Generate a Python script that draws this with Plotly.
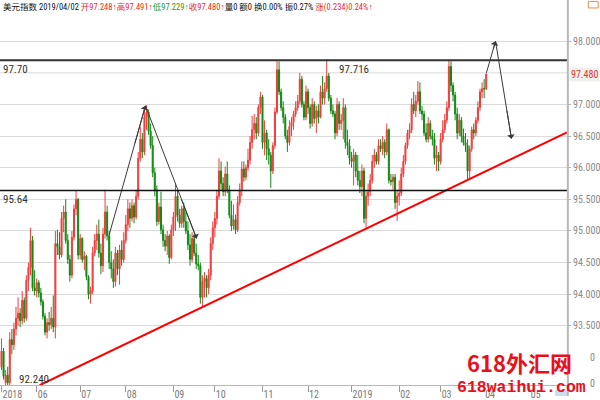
import pandas as pd
import plotly.graph_objects as go

# Daily US Dollar Index bars, 2018-05-09 .. 2019-04-02
opens = [
    92.85, 93.10, 92.60, 92.72, 92.60, 93.28, 93.20, 93.45, 93.62, 93.70,
    93.58, 93.90, 93.62, 94.22, 94.42, 94.85, 94.10, 94.05, 94.18, 94.02,
    93.88, 93.65, 93.40, 93.55, 93.52, 93.62, 93.48, 94.80, 94.75, 94.62,
    95.20, 95.30, 94.85, 94.55, 94.30, 94.90, 95.35, 95.50, 94.62, 94.88,
    94.55, 94.60, 94.28, 94.00, 94.05, 94.65, 94.85, 94.95, 94.65, 94.45,
    94.95, 95.30, 94.92, 94.50, 94.40, 94.20, 94.65, 94.40, 94.70, 94.55,
    94.85, 95.10, 95.35, 95.20, 95.40, 95.22, 95.55, 96.15, 96.45, 96.25,
    96.80, 96.88, 96.58, 96.35, 95.92, 95.65, 95.15, 95.38, 95.02, 94.85,
    94.76, 94.92, 94.58, 95.02, 95.22, 95.55, 95.25, 95.12, 95.35, 95.15,
    95.00, 94.78, 94.55, 94.88, 94.65, 94.48, 94.45, 93.95, 94.20, 94.25,
    94.10, 94.30, 94.80, 95.05, 95.20, 95.55, 95.95, 95.75, 95.62, 95.90,
    95.65, 95.25, 95.08, 95.18, 95.02, 95.45, 95.65, 95.98, 95.85, 96.00,
    96.12, 96.40, 96.60, 96.70, 96.55, 96.95, 97.12, 96.40, 96.55, 96.30,
    96.20, 95.95, 96.35, 96.88, 97.55, 97.20, 96.95, 96.80, 96.50, 96.40,
    96.65, 96.72, 96.85, 96.95, 97.05, 97.40, 97.00, 96.80, 97.20, 96.95,
    96.70, 97.00, 96.78, 96.90, 96.80, 97.20, 97.10, 97.25, 97.45, 97.10,
    96.90, 96.85, 96.55, 97.00, 96.70, 96.75, 96.95, 96.40, 96.35, 96.15,
    96.10, 96.20, 95.95, 95.80, 95.70, 95.95, 95.20, 95.55, 95.62, 95.80,
    96.10, 96.20, 96.10, 96.35, 96.30, 96.40, 96.25, 96.60, 95.80, 95.78,
    95.85, 95.45, 95.55, 95.60, 95.90, 96.10, 96.35, 96.55, 96.60, 97.00,
    96.90, 97.05, 97.20, 96.90, 96.85, 96.55, 96.45, 96.70, 96.50, 96.45,
    96.15, 96.20, 96.10, 96.45, 96.60, 96.75, 96.95, 97.60, 97.30, 97.15,
    96.85, 96.55, 96.75, 96.50, 96.40, 96.35, 95.95, 96.30, 96.60, 96.55,
    96.75, 96.95, 97.20, 97.25, 97.248,
]
highs = [
    93.30, 93.15, 92.80, 92.85, 93.40, 93.45, 93.55, 93.80, 93.95, 93.78,
    94.05, 93.95, 94.30, 94.50, 95.05, 94.92, 94.38, 94.25, 94.22, 94.10,
    93.92, 93.70, 93.62, 93.72, 93.80, 93.98, 95.00, 95.02, 94.98, 95.30,
    95.40, 95.50, 94.95, 94.62, 95.00, 95.42, 95.64, 95.52, 94.95, 94.90,
    94.68, 94.62, 94.30, 94.12, 94.75, 94.95, 95.10, 95.18, 94.80, 95.05,
    95.65, 95.40, 95.00, 94.68, 94.55, 94.75, 94.70, 94.78, 94.85, 94.98,
    95.25, 95.50, 95.45, 95.50, 95.45, 95.65, 96.25, 96.65, 96.55, 96.95,
    96.99, 96.92, 96.70, 96.50, 96.00, 95.72, 95.45, 95.62, 95.10, 94.95,
    95.00, 94.95, 95.10, 95.30, 95.76, 95.65, 95.35, 95.40, 95.45, 95.30,
    95.15, 94.95, 94.98, 94.95, 94.80, 94.62, 94.50, 94.30, 94.35, 94.30,
    94.40, 94.90, 95.15, 95.30, 95.65, 96.15, 96.10, 95.85, 96.02, 96.10,
    95.72, 95.48, 95.42, 95.26, 95.55, 95.75, 96.10, 96.10, 96.05, 96.30,
    96.50, 96.82, 96.85, 96.80, 97.00, 97.20, 97.15, 96.75, 96.60, 96.45,
    96.25, 96.40, 96.95, 97.70, 97.68, 97.25, 97.05, 96.85, 96.60, 96.75,
    96.80, 96.90, 97.05, 97.15, 97.50, 97.45, 97.05, 97.30, 97.25, 97.00,
    97.10, 97.05, 96.98, 97.00, 97.30, 97.45, 97.35, 97.716, 97.50, 97.15,
    97.00, 96.90, 97.10, 97.05, 96.85, 97.10, 97.00, 96.60, 96.45, 96.25,
    96.30, 96.25, 96.20, 95.95, 96.05, 96.00, 95.65, 95.75, 95.90, 96.20,
    96.30, 96.25, 96.45, 96.45, 96.50, 96.45, 96.70, 96.62, 95.90, 95.90,
    95.90, 95.65, 95.80, 96.00, 96.20, 96.40, 96.60, 96.70, 97.10, 97.20,
    97.15, 97.37, 97.35, 96.98, 96.90, 96.70, 96.80, 96.75, 96.60, 96.55,
    96.35, 96.25, 96.55, 96.75, 96.85, 97.05, 97.71, 97.68, 97.35, 97.20,
    96.95, 96.85, 96.80, 96.62, 96.55, 96.45, 96.35, 96.65, 96.70, 96.80,
    97.05, 97.25, 97.35, 97.40, 97.491,
]
lows = [
    92.80, 92.65, 92.24, 92.50, 92.55, 93.05, 93.12, 93.35, 93.50, 93.48,
    93.52, 93.55, 93.58, 94.05, 94.30, 94.05, 93.98, 93.95, 93.95, 93.82,
    93.60, 93.35, 93.30, 93.42, 93.45, 93.40, 93.30, 94.62, 94.55, 94.58,
    94.98, 94.80, 94.48, 94.20, 94.25, 94.85, 95.25, 94.55, 94.55, 94.50,
    94.38, 94.22, 93.92, 93.85, 94.00, 94.60, 94.70, 94.58, 94.32, 94.35,
    94.88, 94.85, 94.40, 94.25, 94.10, 94.12, 94.30, 94.15, 94.45, 94.50,
    94.80, 95.00, 95.05, 95.15, 95.12, 95.18, 95.50, 96.10, 96.15, 96.20,
    96.60, 96.52, 96.30, 95.85, 95.55, 95.08, 95.10, 94.95, 94.75, 94.68,
    94.62, 94.48, 94.55, 94.92, 95.00, 95.15, 95.05, 95.05, 95.05, 94.95,
    94.70, 94.45, 94.50, 94.60, 94.40, 94.38, 93.85, 93.81, 93.95, 93.95,
    94.00, 94.22, 94.70, 94.90, 95.10, 95.50, 95.65, 95.55, 95.55, 95.60,
    95.20, 95.00, 95.02, 94.95, 94.98, 95.40, 95.55, 95.78, 95.80, 95.95,
    96.05, 96.30, 96.45, 96.45, 96.50, 96.85, 96.30, 96.20, 96.12, 96.05,
    95.68, 95.90, 96.30, 96.85, 97.15, 96.90, 96.70, 96.45, 96.25, 96.35,
    96.50, 96.60, 96.80, 96.90, 97.00, 96.95, 96.75, 96.75, 96.85, 96.62,
    96.65, 96.70, 96.55, 96.70, 96.78, 97.00, 97.00, 97.20, 97.05, 96.85,
    96.80, 96.45, 96.50, 96.60, 96.60, 96.45, 96.30, 96.20, 96.05, 96.00,
    95.72, 95.85, 95.72, 95.60, 95.55, 95.12, 95.05, 95.40, 95.55, 95.75,
    96.00, 96.05, 96.05, 96.25, 96.20, 96.15, 96.20, 95.75, 95.72, 95.65,
    95.35, 95.16, 95.40, 95.55, 95.85, 96.05, 96.30, 96.45, 96.55, 96.85,
    96.80, 97.00, 96.85, 96.75, 96.50, 96.40, 96.40, 96.45, 96.35, 96.05,
    95.95, 95.95, 96.05, 96.40, 96.55, 96.70, 96.90, 97.20, 97.05, 96.75,
    96.45, 96.50, 96.40, 96.35, 96.25, 95.80, 95.82, 96.25, 96.45, 96.50,
    96.70, 96.90, 97.10, 97.10, 97.229,
]
closes = [
    93.10, 92.70, 92.72, 92.60, 93.28, 93.20, 93.45, 93.62, 93.70, 93.58,
    93.90, 93.62, 94.22, 94.42, 94.85, 94.10, 94.05, 94.18, 94.02, 93.88,
    93.65, 93.40, 93.55, 93.52, 93.62, 93.48, 94.80, 94.75, 94.62, 95.20,
    95.30, 94.85, 94.55, 94.30, 94.90, 95.35, 95.50, 94.62, 94.88, 94.55,
    94.60, 94.28, 94.00, 94.05, 94.65, 94.85, 94.95, 94.65, 94.45, 94.95,
    95.30, 94.92, 94.50, 94.40, 94.20, 94.65, 94.40, 94.70, 94.55, 94.85,
    95.10, 95.35, 95.20, 95.40, 95.22, 95.55, 96.15, 96.45, 96.25, 96.80,
    96.88, 96.58, 96.35, 95.92, 95.65, 95.15, 95.38, 95.02, 94.85, 94.76,
    94.92, 94.58, 95.02, 95.22, 95.55, 95.25, 95.12, 95.35, 95.15, 95.00,
    94.78, 94.55, 94.88, 94.65, 94.48, 94.45, 93.95, 94.20, 94.25, 94.10,
    94.30, 94.80, 95.05, 95.20, 95.55, 95.95, 95.75, 95.62, 95.90, 95.65,
    95.25, 95.08, 95.18, 95.02, 95.45, 95.65, 95.98, 95.85, 96.00, 96.12,
    96.40, 96.60, 96.70, 96.55, 96.95, 97.12, 96.40, 96.55, 96.30, 96.20,
    95.95, 96.35, 96.88, 97.55, 97.20, 96.95, 96.80, 96.50, 96.40, 96.65,
    96.72, 96.85, 96.95, 97.05, 97.40, 97.00, 96.80, 97.20, 96.95, 96.70,
    97.00, 96.78, 96.90, 96.80, 97.20, 97.10, 97.25, 97.45, 97.10, 96.90,
    96.85, 96.55, 97.00, 96.70, 96.75, 96.95, 96.40, 96.35, 96.15, 96.10,
    96.20, 95.95, 95.80, 95.70, 95.95, 95.20, 95.55, 95.62, 95.80, 96.10,
    96.20, 96.10, 96.35, 96.30, 96.40, 96.25, 96.60, 95.80, 95.78, 95.85,
    95.45, 95.55, 95.60, 95.90, 96.10, 96.35, 96.55, 96.60, 97.00, 96.90,
    97.05, 97.20, 96.90, 96.85, 96.55, 96.45, 96.70, 96.50, 96.45, 96.15,
    96.20, 96.10, 96.45, 96.60, 96.75, 96.95, 97.60, 97.30, 97.15, 96.85,
    96.55, 96.75, 96.50, 96.40, 96.35, 95.95, 96.30, 96.60, 96.55, 96.75,
    96.95, 97.20, 97.25, 97.246, 97.480,
]

first_day = "2018-05-09"
axis_end_day = "2019-05-31"

# price-axis grid levels
price_ticks = [93.5, 94.0, 94.5, 95.0, 95.5, 96.0, 96.5, 97.0, 97.5, 98.0]

# Horizontal resistance / support levels
level_levels = [97.70, 95.64]
level_labels = ["97.70", "95.64"]

# Rising trend line anchors (bar index, price)
trend_x = [18.4, 273.0]
trend_y = [92.56, 96.56]

# Sketched projection paths (bar index, price)
path1_x = [51.9, 69.5, 94.2]
path1_y = [94.93, 96.98, 94.88]
path2_x = [234.1, 238.5, 246.2]
path2_y = [97.50, 98.00, 96.46]

UP = "#f23c3c"
DOWN = "#118a11"
NARROW = "Roboto Condensed, Liberation Sans Narrow, Liberation Sans, Arial"

n = len(closes)
bars = list(range(n))
calendar = pd.bdate_range(first_day, axis_end_day)

# month ticks: first trading day of every month
tick_vals, tick_text = [], []
prev = None
for i, d in enumerate(calendar):
    key = (d.year, d.month)
    if key != prev:
        if i == 0 or d.month == 1:
            tick_text.append(str(d.year))
        else:
            tick_text.append(f"{d.month:02d}")
        tick_vals.append(i)
        prev = key

# the last-price tag sits on the price axis; the grid label under it is hidden
shown_ticks = [t for t in price_ticks if abs(t - closes[-1]) > 0.1]
hidden_ticks = [t for t in price_ticks if t not in shown_ticks]

fig = go.Figure()
fig.add_trace(go.Candlestick(
    x=bars, open=opens, high=highs, low=lows, close=closes,
    increasing=dict(line=dict(color=UP, width=1), fillcolor=UP),
    decreasing=dict(line=dict(color=DOWN, width=1), fillcolor=DOWN),
    whiskerwidth=0, showlegend=False, hoverinfo="skip",
))

# trend line
fig.add_trace(go.Scatter(
    x=trend_x, y=trend_y, mode="lines",
    line=dict(color="#ff0000", width=2), showlegend=False, hoverinfo="skip",
))

# projection paths
for px, py in ((path1_x, path1_y), (path2_x, path2_y)):
    fig.add_trace(go.Scatter(
        x=px, y=py, mode="lines",
        line=dict(color="#3a3a3a", width=1), showlegend=False, hoverinfo="skip",
    ))

shapes = []
for t in hidden_ticks:
    shapes.append(dict(type="line", xref="paper", x0=0, x1=1, yref="y", y0=t, y1=t,
                       line=dict(color="#dadada", width=1), layer="below"))
for lv, w, c in zip(level_levels, [2, 1.6], ["#333333", "#111111"]):
    shapes.append(dict(type="line", xref="paper", x0=0, x1=1, yref="y", y0=lv, y1=lv,
                       line=dict(color=c, width=w), layer="above"))
# right price-axis rule running the full height
shapes.append(dict(type="line", xref="paper", x0=1.0015, x1=1.0015, yref="paper",
                   y0=-0.03, y1=1.06, line=dict(color="#b8b8b8", width=2)))
# toolbar icon at top right
shapes.append(dict(type="rect", xref="paper", yref="paper", x0=1.0375, x1=1.055,
                   y0=1.033, y1=1.051, line=dict(color="#f08a3c", width=1)))
# period-tab chip at the bottom right
shapes.append(dict(type="rect", xref="paper", yref="paper", x0=0.979, x1=1.0,
                   y0=-0.03, y1=-0.0135, fillcolor="#c9dcf2", line=dict(width=0)))

ann = []
for lv, txt in zip(level_levels, level_labels):
    ann.append(dict(text=txt, xref="paper", x=0, xanchor="left", xshift=1,
                    y=lv, yref="y", yanchor="top", yshift=-1, showarrow=False,
                    font=dict(family=NARROW, size=11, color="#333333")))

hi_i = max(range(n), key=lambda i: highs[i])
lo_i = min(range(n), key=lambda i: lows[i])
ann.append(dict(text=f"{highs[hi_i]:.3f}", x=hi_i, xref="x", xanchor="left", xshift=10,
                y=level_levels[0], yref="y", yanchor="top", yshift=-1, showarrow=False,
                font=dict(family=NARROW, size=11, color="#333333")))
ann.append(dict(text=f"{lows[lo_i]:.3f}", x=lo_i, xref="x", xanchor="left", xshift=11,
                y=0, yref="paper", yanchor="bottom", yshift=-3, showarrow=False,
                font=dict(family=NARROW, size=11, color="#333333")))

# arrow heads on the projection paths
for px, py in ((path1_x, path1_y), (path2_x, path2_y)):
    for k in (1, 2):
        ann.append(dict(x=px[k], y=py[k], ax=px[k - 1] + (px[k] - px[k - 1]) * 0.7,
                        ay=py[k - 1] + (py[k] - py[k - 1]) * 0.7,
                        xref="x", yref="y", axref="x", ayref="y", text="",
                        showarrow=True, arrowhead=1, arrowsize=1.3, arrowwidth=1,
                        arrowcolor="#3a3a3a"))

# last price marker on the price axis
ann.append(dict(text=f"{closes[-1]:.3f}", xref="paper", x=1, xanchor="left", xshift=2,
                y=closes[-1], yref="y", showarrow=False, bgcolor="#edf3ec",
                font=dict(family=NARROW, size=10, color="#f03030"), borderpad=1))

# quote header
o, h, l, c = opens[-1], highs[-1], lows[-1], closes[-1]
prev_close = closes[-2]
chg = c - prev_close
red, green = "#ee2a24", "#1f9a2c"
header = (
    f"美元指数 {calendar[n - 1]:%Y/%m/%d} "
    f"<span style='color:{red}'>开{o:.3f}↑高{h:.3f}↑</span>"
    f"<span style='color:{green}'>低{l:.3f}↑</span>"
    f"<span style='color:{red}'>收{c:.3f}↑</span>"
    f"量0 额0 换0.00% 振{(h - l) / prev_close * 100:.2f}% "
    f"<span style='color:{red}'>涨({chg:.3f}){chg / prev_close * 100:.2f}%↑</span>"
)
ann.append(dict(text=header, xref="paper", x=0, xanchor="left", xshift=1,
                yref="paper", y=1.033, yanchor="middle", showarrow=False,
                font=dict(family="Roboto Condensed, Liberation Sans Narrow, Liberation Sans, "
                                 "Noto Sans CJK SC", size=8.5, color="#111111")))

# volume pane zero labels peeking at the right edge
ann.append(dict(text="0", xref="paper", x=1, xanchor="left", xshift=21, yref="paper",
                y=0.075, yanchor="middle", showarrow=False,
                font=dict(family=NARROW, size=10, color="#888888")))
ann.append(dict(text="0", xref="paper", x=1, xanchor="left", xshift=21, yref="paper",
                y=0.005, yanchor="middle", showarrow=False,
                font=dict(family=NARROW, size=10, color="#888888")))

# site watermark
ann.append(dict(text="<b>618外汇网</b>", xref="paper", x=1.012, xanchor="right",
                yref="paper", y=0.062, yanchor="middle", showarrow=False,
                font=dict(family="Noto Sans CJK SC", size=22, color="#e8101a")))
ann.append(dict(text="<b>618waihui.com</b>", xref="paper", x=1.037, xanchor="right",
                yref="paper", y=0.005, yanchor="middle", yshift=-4, showarrow=False,
                font=dict(family="Liberation Mono", size=16.5, color="#e8101a")))

fig.update_layout(
    width=600, height=400,
    margin=dict(l=0, r=28, t=20, b=10),
    paper_bgcolor="white", plot_bgcolor="white",
    shapes=shapes, annotations=ann, showlegend=False,
    xaxis=dict(
        range=[-0.72, 273.0], rangeslider=dict(visible=False),
        tickvals=tick_vals, ticktext=tick_text, ticks="outside", ticklen=6,
        tickcolor="#9a9a9a", ticklabelposition="outside right",
        tickfont=dict(family=NARROW, size=10, color="#7a7a7a"),
        showgrid=False, zeroline=False, showline=True, linecolor="#b8b8b8", linewidth=1,
        fixedrange=True,
    ),
    yaxis=dict(
        side="right", range=[92.564, 98.336],
        tickvals=shown_ticks, ticktext=[f"{t:.3f}" for t in shown_ticks],
        ticks="outside", ticklen=3, tickcolor="#b0b0b0",
        tickfont=dict(family=NARROW, size=10, color="#8a8a8a"),
        showgrid=True, gridcolor="#dadada", gridwidth=1,
        zeroline=False, showline=False, fixedrange=True,
    ),
)

fig.write_html("out.html")
